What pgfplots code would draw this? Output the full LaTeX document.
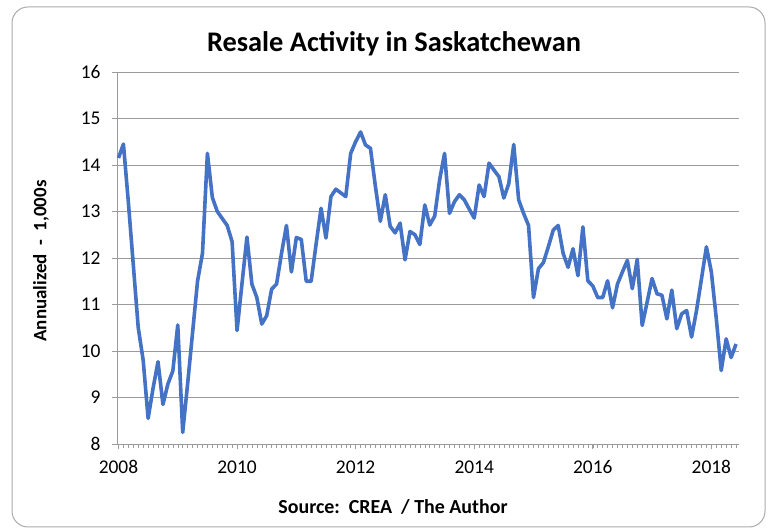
\documentclass[border=0pt]{standalone}
\usepackage{pgfplots}
\pgfplotsset{compat=1.18}
\usepackage{pgfplotstable}
\usepackage{fontspec}
\setmainfont{Carlito}
\definecolor{xlblue}{RGB}{68,114,196}
\definecolor{gridgray}{RGB}{155,155,155}
\definecolor{bordergray}{RGB}{170,170,170}
\pgfplotstableread{
m v
0 14.15
1 14.45
2 13.2
3 11.85
4 10.5
5 9.8
6 8.55
7 9.2
8 9.77
9 8.85
10 9.29
11 9.57
12 10.56
13 8.25
14 9.3
15 10.4
16 11.5
17 12.1
18 14.25
19 13.3
20 13.0
21 12.85
22 12.7
23 12.35
24 10.44
25 11.45
26 12.45
27 11.44
28 11.15
29 10.58
30 10.76
31 11.33
32 11.44
33 12.1
34 12.7
35 11.7
36 12.44
37 12.4
38 11.5
39 11.5
40 12.3
41 13.07
42 12.43
43 13.32
44 13.48
45 13.4
46 13.32
47 14.25
48 14.5
49 14.71
50 14.43
51 14.36
52 13.54
53 12.79
54 13.36
55 12.68
56 12.54
57 12.75
58 11.96
59 12.57
60 12.5
61 12.29
62 13.14
63 12.71
64 12.9
65 13.68
66 14.25
67 12.96
68 13.21
69 13.36
70 13.25
71 13.05
72 12.86
73 13.57
74 13.32
75 14.04
76 13.89
77 13.75
78 13.29
79 13.6
80 14.44
81 13.25
82 12.96
83 12.7
84 11.15
85 11.77
86 11.9
87 12.24
88 12.6
89 12.7
90 12.1
91 11.8
92 12.2
93 11.62
94 12.67
95 11.51
96 11.4
97 11.15
98 11.15
99 11.51
100 10.93
101 11.44
102 11.7
103 11.95
104 11.34
105 11.97
106 10.55
107 11.05
108 11.56
109 11.23
110 11.2
111 10.69
112 11.31
113 10.48
114 10.8
115 10.87
116 10.3
117 10.87
118 11.55
119 12.24
120 11.7
121 10.7
122 9.58
123 10.26
124 9.86
125 10.15
}\datatable
\begin{document}
\begin{tikzpicture}[x=1bp,y=1bp]
\path[use as bounding box] (0,0) rectangle (772,531);
\draw[bordergray, line width=1bp, rounded corners=16bp] (12,4) rectangle (765,524);
\node[font=\bfseries\fontsize{28.5}{30}\selectfont] at (394,487) {Resale Activity in Saskatchewan};
\node[font=\bfseries\fontsize{19}{21}\selectfont, rotate=90] at (41,270) {Annualized\ \ -\ \ 1,000s};
\node[font=\bfseries\fontsize{20}{22}\selectfont] at (393,24) {Source:\ \ CREA\ \ / The Author};
\begin{axis}[
  at={(117bp,87bp)}, anchor=south west,
  width=622bp, height=372bp, scale only axis,
  xmin=-0.3, xmax=125.6, ymin=8, ymax=16,
  axis lines*=left,
  axis line style={gridgray, line width=0.9pt, -},
  ytick={8,...,16},
  xtick={0,24,48,72,96,120},
  xticklabels={2008,2010,2012,2014,2016,2018},
  minor xtick={0,...,125},
  tick align=outside,
  major tick length=5bp,
  minor tick length=4bp,
  every tick/.style={gridgray, line width=0.6pt},
  minor tick style={gridgray, line width=0.5pt},
  ymajorgrids,
  grid style={gridgray, line width=0.9pt},
  tick label style={font=\fontsize{19.5}{21}\selectfont, black},
  yticklabel style={xshift=-8bp},
  xticklabel style={yshift=-8bp},
  /pgf/number format/assume math mode=true,
  clip=false,
]
\addplot[xlblue, line width=3.6bp, line join=round, no marks] table[x=m, y=v] {\datatable};
\end{axis}
\end{tikzpicture}
\end{document}
